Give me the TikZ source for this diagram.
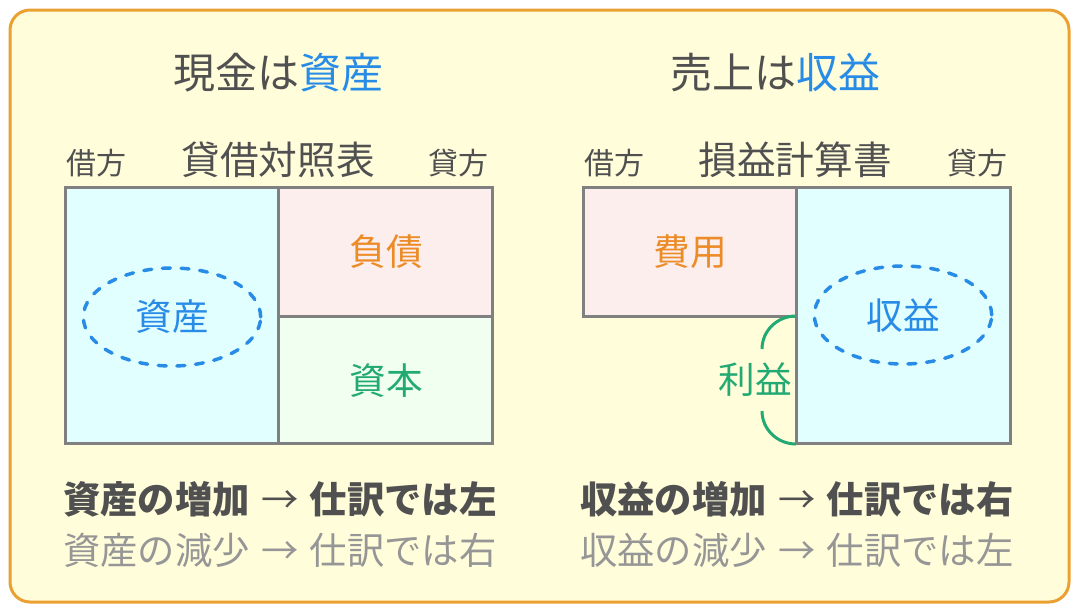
\documentclass[tikz,border=0pt]{standalone}
\usepackage{fontspec}
\setmainfont{Noto Sans CJK JP}
\usetikzlibrary{shapes.geometric,positioning}
\definecolor{frame_orange}{RGB}{235, 160, 50}
\definecolor{panel_yellow}{RGB}{255, 253, 218}
\definecolor{text_gray}{RGB}{80, 80, 80}
\definecolor{soft_gray}{RGB}{150, 150, 150}
\definecolor{line_gray}{RGB}{128, 128, 128}
\definecolor{acc_blue}{RGB}{40, 140, 230}
\definecolor{acc_orange}{RGB}{235, 140, 40}
\definecolor{acc_green}{RGB}{35, 170, 115}
\definecolor{fill_cyan}{RGB}{225, 255, 255}
\definecolor{fill_pink}{RGB}{253, 238, 238}
\definecolor{fill_green}{RGB}{240, 255, 240}
\newcommand{\titlesize}{\fontsize{31.5pt}{36pt}\selectfont}
\newcommand{\headsize}{\fontsize{29pt}{33pt}\selectfont}
\newcommand{\sidesize}{\fontsize{22.5pt}{26pt}\selectfont}
\newcommand{\labelsize}{\fontsize{27.5pt}{31pt}\selectfont}
\newcommand{\rulesize}{\fontsize{28pt}{32pt}\selectfont}
\newcommand{\ruleto}{\hspace{0.3em}{\mdseries →}\hspace{0.3em}}

\begin{document}
\begin{tikzpicture}[
		x=0.75pt, y=-0.75pt,
		every node/.style={inner sep=0pt, text=text_gray},
		boxline/.style={draw=line_gray, line width=2.25pt},
		oval/.style={ellipse, draw=acc_blue, line width=2.6pt, dash pattern=on 6pt off 8pt,
				line cap=round, minimum width=133pt, minimum height=73.5pt, text=acc_blue},
		bracket/.style={draw=acc_green, line width=2.25pt},
	]
	\useasboundingbox (0,0) rectangle (1080,612);

	% outer panel
	\filldraw[draw=frame_orange, fill=panel_yellow, line width=2.25pt, rounded corners=15pt]
	(10,10) rectangle (1069,602);

	% left: balance sheet
	\node[name=title-bs] at (278,73) {\titlesize 現金は\textcolor{acc_blue}{資産}};
	\node[name=head-bs] at (278,160) {\headsize 貸借対照表};
	\node[name=debit-bs] at (96,163) {\sidesize 借方};
	\node[name=credit-bs] at (458,163) {\sidesize 貸方};

	\filldraw[boxline, fill=fill_cyan] (65,187) rectangle (278,443);
	\filldraw[boxline, fill=fill_pink] (278,187) rectangle (492,316);
	\filldraw[boxline, fill=fill_green] (278,316) rectangle (492,443);

	\node[oval, name=assets] at (172,317) {\labelsize 資産};
	\node[name=liabilities, text=acc_orange] at (386,252) {\labelsize 負債};
	\node[name=equity, text=acc_green] at (386,381) {\labelsize 資本};

	\node[anchor=west, name=rule-bs1] at (63,499) {\rulesize\bfseries 資産の増加\ruleto 仕訳では左};
	\node[anchor=west, name=rule-bs2, text=soft_gray] at (63,550) {\rulesize 資産の減少\ruleto 仕訳では右};

	% right: income statement
	\node[name=title-is] at (775,73) {\titlesize 売上は\textcolor{acc_blue}{収益}};
	\node[name=head-is] at (795,160) {\headsize 損益計算書};
	\node[name=debit-is] at (614,163) {\sidesize 借方};
	\node[name=credit-is] at (977,163) {\sidesize 貸方};

	\filldraw[boxline, fill=fill_pink] (583,187) rectangle (796,316);
	\filldraw[boxline, fill=fill_cyan] (796,187) rectangle (1010,443);

	\node[oval, name=revenue] at (903,315) {\labelsize 収益};
	\node[name=expenses, text=acc_orange] at (690,252) {\labelsize 費用};
	\node[name=profit, text=acc_green] at (755,380) {\labelsize 利益};

	% profit bracket
	\draw[bracket] (796,316) .. controls (777,316) and (762,331) .. (762,349);
	\draw[bracket] (762,411) .. controls (762,429) and (777,444) .. (796,444);

	\node[anchor=west, name=rule-is1] at (580,499) {\rulesize\bfseries 収益の増加\ruleto 仕訳では右};
	\node[anchor=west, name=rule-is2, text=soft_gray] at (580,550) {\rulesize 収益の減少\ruleto 仕訳では左};

\end{tikzpicture}
\end{document}
